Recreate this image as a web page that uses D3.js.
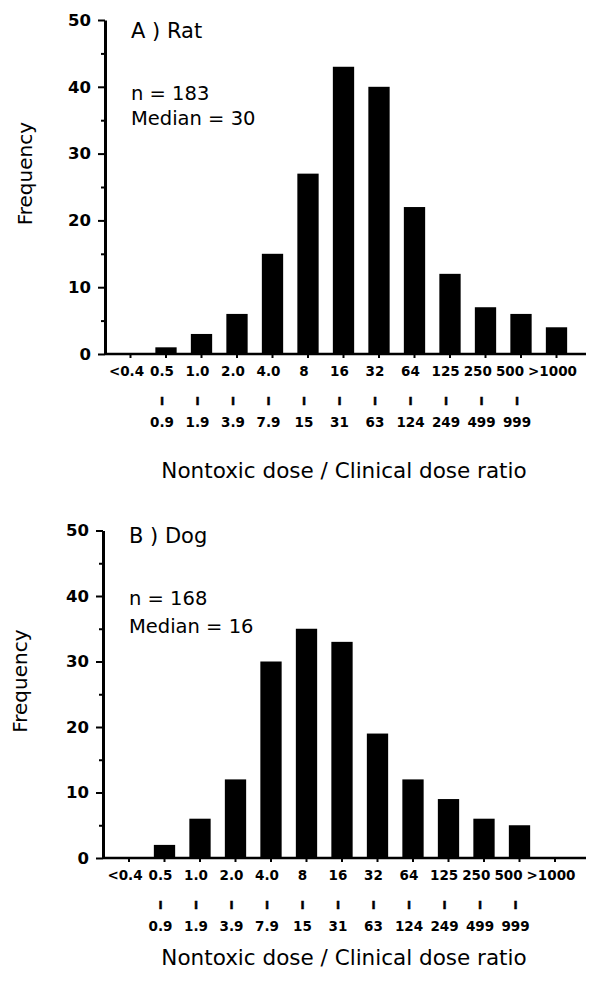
<!DOCTYPE html>
<html>
<head>
<meta charset="utf-8">
<script src="https://cdn.jsdelivr.net/npm/d3@7/dist/d3.min.js"></script>
<style>
  body { margin: 0; background: #fff; }
  svg { display: block; font-family: "DejaVu Sans", sans-serif; }
  .axis path, .axis line { stroke: #000; }
</style>
</head>
<body>
<svg id="chart" width="590" height="988"></svg>
<script>
// ratio classes: lower bound on first row, upper bound on the row below
var lowLabels = ['<0.4', '0.5', '1.0', '2.0', '4.0', '8', '16', '32', '64', '125', '250', '500', '>1000'];
var highLabels = ['', '0.9', '1.9', '3.9', '7.9', '15', '31', '63', '124', '249', '499', '999', ''];

var ratCounts = [0, 1, 3, 6, 15, 27, 43, 40, 22, 12, 7, 6, 4];
var dogCounts = [0, 2, 6, 12, 30, 35, 33, 19, 12, 9, 6, 5, 0];

var yTicks = [0, 10, 20, 30, 40, 50];
var yMinorTicks = [5, 15, 25, 35, 45];

var panels = [
  {
    head: 'A ) Rat', n: 183, median: 30, counts: ratCounts,
    axisX: 105, bottom: 354, top: 20, xFrom: 112.75, xTo: 574.25, axisEnd: 586,
    headY: 38, nY: 100, medY: 125, titleY: 478, freqX: 32
  },
  {
    head: 'B ) Dog', n: 168, median: 16, counts: dogCounts,
    axisX: 103, bottom: 858, top: 530.5, xFrom: 111.25, xTo: 572.75, axisEnd: 586,
    headY: 543, nY: 605, medY: 633, titleY: 965, freqX: 27
  }
];

var svg = d3.select('#chart');

panels.forEach(drawPanel);

function drawPanel(p) {
  var g = svg.append('g');

  var x = d3.scaleBand()
    .domain(lowLabels)
    .range([p.xFrom, p.xTo])
    .paddingInner(0.4)
    .paddingOuter(0.2);

  var y = d3.scaleLinear()
    .domain([0, 50])
    .range([p.bottom, p.top]);

  var rows = lowLabels.map(function (label, i) {
    return { low: label, high: highLabels[i], count: p.counts[i] };
  });

  g.selectAll('.bar')
    .data(rows)
    .enter()
    .append('rect')
    .classed('bar', true)
    .attr('x', function (d) { return x(d.low); })
    .attr('width', x.bandwidth())
    .attr('y', function (d) { return y(d.count); })
    .attr('height', function (d) { return y(0) - y(d.count); })
    .attr('fill', '#000');

  // x axis: baseline runs past the last class, small ticks under each bar
  g.append('line')
    .attr('x1', p.axisX)
    .attr('x2', p.axisEnd)
    .attr('y1', y(0))
    .attr('y2', y(0))
    .attr('stroke', '#000')
    .attr('stroke-width', 2.5);

  var xAxis = g.append('g')
    .attr('class', 'axis')
    .attr('transform', 'translate(0,' + y(0) + ')')
    .call(d3.axisBottom(x).tickSize(4).tickSizeOuter(0).tickFormat(''));
  xAxis.select('.domain').remove();
  xAxis.selectAll('.tick line').attr('stroke-width', 2);

  var labels = g.selectAll('.cls')
    .data(rows)
    .enter()
    .append('g')
    .classed('cls', true)
    .attr('transform', function (d) {
      return 'translate(' + (x(d.low) + x.bandwidth() / 2 - 4) + ',' + y(0) + ')';
    })
    .attr('text-anchor', 'middle')
    .attr('font-weight', 'bold');

  var lows = labels.append('text')
    .attr('y', 22)
    .attr('font-size', 13.5)
    .text(function (d) { return d.low; });

  labels.filter(function (d) { return d.high; })
    .append('text')
    .attr('y', 51)
    .attr('font-size', 11)
    .attr('stroke', '#000')
    .attr('stroke-width', 0.5)
    .text('I');

  labels.filter(function (d) { return d.high; })
    .append('text')
    .attr('y', 73)
    .attr('font-size', 13.5)
    .text(function (d) { return d.high; });

  // squeeze crowded lower bounds leftwards, right to left, like the print does
  var nodes = lows.nodes();
  var dx = nodes.map(function () { return 0; });
  for (var i = nodes.length - 2; i >= 0; i--) {
    var a = nodes[i].getBBox();
    var b = nodes[i + 1].getBBox();
    var gap = (b.x + dx[i + 1] + stepOf(i + 1)) - (a.x + a.width + stepOf(i)) - 4;
    if (gap < 0) dx[i] = gap;
  }
  lows.attr('x', function (d, i) { return dx[i]; });

  function stepOf(i) {
    return x(lowLabels[i]);
  }

  // y axis with minor ticks at the fives
  var yAxis = g.append('g')
    .attr('class', 'axis')
    .attr('transform', 'translate(' + p.axisX + ',0)')
    .call(d3.axisLeft(y).tickValues(yTicks).tickSize(7).tickSizeOuter(0).tickPadding(7));
  yAxis.select('.domain').attr('stroke-width', 3);
  yAxis.selectAll('.tick line').attr('stroke-width', 2);
  yAxis.selectAll('.tick text')
    .attr('font-family', '"DejaVu Sans", sans-serif')
    .attr('font-size', 16.5)
    .attr('font-weight', 'bold')
    .attr('fill', '#000');

  var minor = g.append('g')
    .attr('class', 'axis')
    .attr('transform', 'translate(' + p.axisX + ',0)')
    .call(d3.axisLeft(y).tickValues(yMinorTicks).tickSize(4).tickSizeOuter(0).tickFormat(''));
  minor.select('.domain').remove();
  minor.selectAll('.tick line').attr('stroke-width', 2);

  // notes inside the plot
  g.append('text')
    .attr('x', p.axisX + 26)
    .attr('y', p.headY)
    .attr('font-size', 21)
    .text(p.head);
  g.append('text')
    .attr('x', p.axisX + 26)
    .attr('y', p.nY)
    .attr('font-size', 19.5)
    .text('n = ' + p.n);
  g.append('text')
    .attr('x', p.axisX + 26)
    .attr('y', p.medY)
    .attr('font-size', 19.5)
    .text('Median = ' + p.median);

  g.append('text')
    .attr('transform', 'translate(' + p.freqX + ',' + y(27) + ') rotate(-90)')
    .attr('text-anchor', 'middle')
    .attr('font-size', 20)
    .text('Frequency');

  g.append('text')
    .attr('x', 344)
    .attr('y', p.titleY)
    .attr('text-anchor', 'middle')
    .attr('font-size', 21.5)
    .text('Nontoxic dose / Clinical dose ratio');
}
</script>
</body>
</html>
